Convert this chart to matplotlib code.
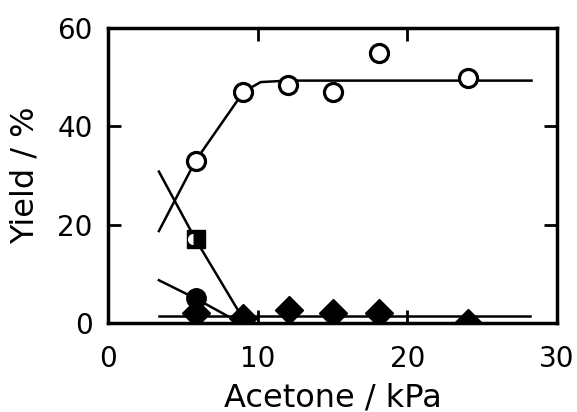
import numpy as np
import matplotlib
matplotlib.use("Agg")
import matplotlib.pyplot as plt
import matplotlib.transforms as mtransforms

# acetone pressure / kPa and yields / %
open_x = [5.85, 9.05, 12.05, 15.05, 18.1, 24.05]
open_y = [33.0, 47.0, 48.4, 47.0, 55.0, 49.8]

square_x = [5.85]
square_y = [17.0]

filled_x = [5.85]
filled_y = [5.0]

diamond_x = [5.85, 9.05, 12.1, 15.05, 18.1, 24.05]
diamond_y = [2.0, 1.0, 2.6, 2.1, 2.0, 0.0]

# hand drawn fit curves
open_fit_x = [3.4, 5.85, 9.05, 10.2, 12.0, 28.3]
open_fit_y = [18.7, 33.0, 47.0, 49.0, 49.3, 49.3]
square_fit_x = [3.4, 5.85, 9.0]
square_fit_y = [30.8, 17.0, 1.0]
filled_fit_x = [3.4, 5.85, 8.0]
filled_fit_y = [8.7, 5.0, 1.4]
base_fit_x = [3.4, 28.2]
base_fit_y = [1.4, 1.4]

x_ticks = [0, 10, 20, 30]
y_ticks = [0, 20, 40, 60]


def draw_figure():
    plt.rcParams['font.family'] = 'DejaVu Sans'
    fig = plt.figure(figsize=(5.77, 4.12), dpi=100)
    ax = fig.add_axes([108 / 577, 1 - 323 / 412, 449 / 577, 295 / 412])

    lw = 1.8
    ax.plot(open_fit_x, open_fit_y, color='black', lw=lw, zorder=2)
    ax.plot(square_fit_x, square_fit_y, color='black', lw=lw, zorder=2)
    ax.plot(filled_fit_x, filled_fit_y, color='black', lw=lw, zorder=2)
    ax.plot(base_fit_x, base_fit_y, color='black', lw=lw, zorder=2)

    ax.plot(open_x, open_y, 'o', ms=13, mfc='white', mec='black', mew=2.3, zorder=4)
    ax.plot(diamond_x, diamond_y, 'D', ms=14.5, color='black', zorder=3, clip_on=True)
    ax.plot(filled_x, filled_y, 'o', ms=14, color='black', zorder=4)
    ax.plot(square_x, square_y, 's', ms=13, color='black', zorder=4)
    # little white mark inside the square symbol
    off = mtransforms.offset_copy(ax.transData, fig=fig, x=-1.5, y=0, units='points')
    ax.plot(square_x, square_y, 'o', ms=8, fillstyle='left', mfc='white',
            mfcalt=(0, 0, 0, 0), mec='none', transform=off, zorder=5)

    ax.set_xlim(0, 30)
    ax.set_ylim(0, 60)
    ax.set_xticks(x_ticks)
    ax.set_yticks(y_ticks)
    ax.tick_params(axis='both', direction='in', length=9.5, width=2,
                   top=True, right=True, labelsize=20)
    ax.tick_params(axis='x', pad=16)
    ax.tick_params(axis='y', pad=11)
    for s in ax.spines.values():
        s.set_linewidth(2.5)

    ax.set_xlabel('Acetone / kPa', fontsize=23, va='center')
    ax.xaxis.set_label_coords(0.5, -0.254)
    ax.set_ylabel('Yield / %', fontsize=23, va='center')
    ax.yaxis.set_label_coords(-0.185, 0.5)

    plt.savefig('out.png', dpi=100)


if __name__ == "__main__":
    draw_figure()
